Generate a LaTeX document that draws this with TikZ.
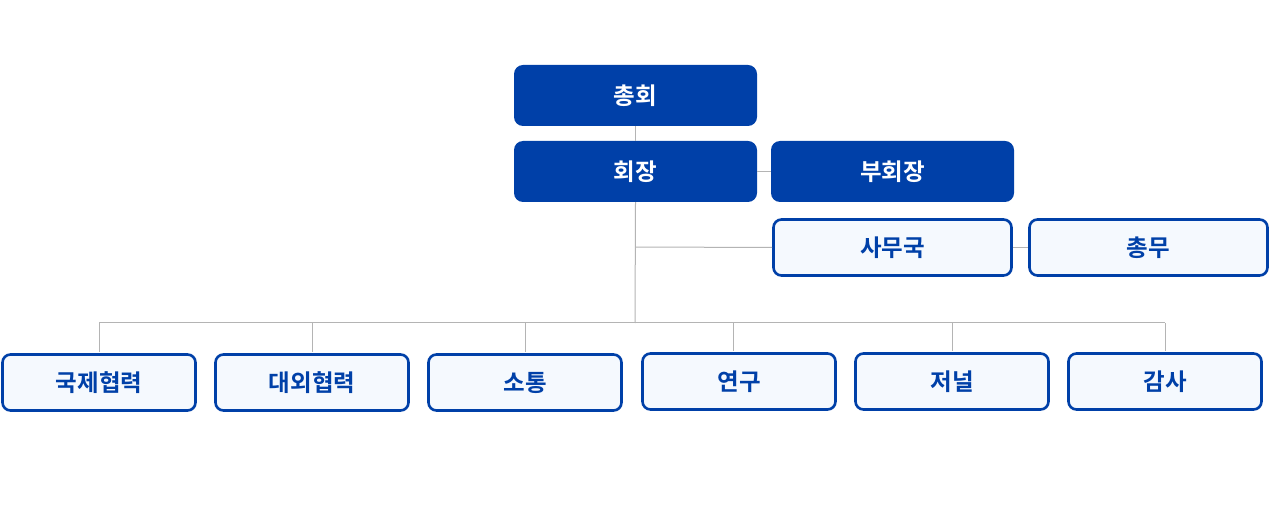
\documentclass[tikz,border=0pt]{standalone}
\usepackage{fontspec}
\newfontfamily\krfont{Noto Sans CJK KR}[BoldFont={Noto Sans CJK KR Bold}]
\definecolor{mainblue}{HTML}{0040A8}
\definecolor{lightfill}{HTML}{F5F9FE}
\definecolor{linegray}{HTML}{B4B4B4}
\begin{document}
\begin{tikzpicture}[x=1pt,y=-1pt,
  darkbox/.style={fill=mainblue,draw=none,rounded corners=9pt,text=white,inner sep=0pt,font=\krfont\bfseries\fontsize{23.5}{26}\selectfont},
  lightbox/.style={fill=lightfill,draw=mainblue,line width=2.6pt,rounded corners=8pt,text=mainblue,inner sep=0pt,font=\krfont\bfseries\fontsize{23.5}{26}\selectfont},
  conn/.style={draw=linegray,line width=1pt}]
\useasboundingbox (0,0) rectangle (1271,518);
\fill[white] (0,0) rectangle (1271,518);
\coordinate (hub) at (635,323);
\coordinate (sahub) at (635,247);
\coordinate (yg) at (733,323);

\node[darkbox,minimum width=243pt,minimum height=61pt] (chonghoe) at (635.5,95.5) {총회};
\node[darkbox,minimum width=243pt,minimum height=61pt] (hoejang) at (635.5,171.5) {회장};
\node[darkbox,minimum width=243pt,minimum height=61pt] (buhoejang) at (892.5,171.5) {부회장};
\node[lightbox,minimum width=238pt,minimum height=56pt] (samuguk) at (892.5,247.5) {사무국};
\node[lightbox,minimum width=238pt,minimum height=56pt] (chongmu) at (1148.5,247.5) {총무};

\node[lightbox,minimum width=193pt,minimum height=56pt] (b1) at (99,382.5) {국제협력};
\node[lightbox,minimum width=193pt,minimum height=56pt] (b2) at (312,382.5) {대외협력};
\node[lightbox,minimum width=193pt,minimum height=56pt] (b3) at (525,382.5) {소통};
\node[lightbox,minimum width=193pt,minimum height=56pt] (b4) at (739,381.5) {연구};
\node[lightbox,minimum width=193pt,minimum height=56pt] (b5) at (952,381.5) {저널};
\node[lightbox,minimum width=193pt,minimum height=56pt] (b6) at (1165,381.5) {감사};

\draw[conn] (chonghoe.south) -- (hoejang.north);
\draw[conn] (hoejang.east) -- (buhoejang.west);
\draw[conn] (hoejang.south) -- (hub);
\draw[conn] (sahub) -- (samuguk.west);
\draw[conn] (samuguk.east) -- (chongmu.west);
\draw[conn] (b1.north |- hub) -- (b6.north |- hub);
\draw[conn] (b1.north |- hub) -- ([yshift=1.3pt]b1.north);
\draw[conn] (b2.north |- hub) -- ([yshift=1.3pt]b2.north);
\draw[conn] (b3.north |- hub) -- ([yshift=1.3pt]b3.north);
\draw[conn] (yg) -- ([yshift=1.3pt]b4.north -| yg);
\draw[conn] (b5.north |- hub) -- ([yshift=1.3pt]b5.north);
\draw[conn] (b6.north |- hub) -- ([yshift=1.3pt]b6.north);
\end{tikzpicture}
\end{document}
